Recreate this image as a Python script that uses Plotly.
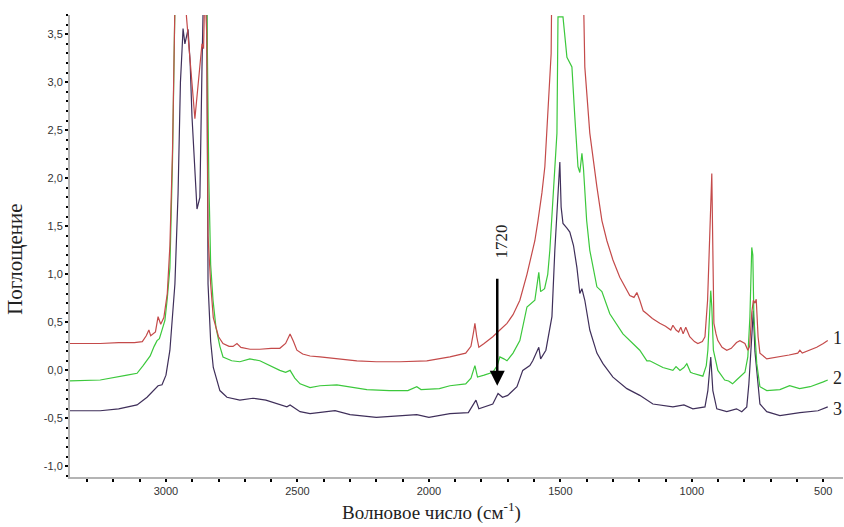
import plotly.graph_objects as go

# ---- data (wavenumber, cm^-1 ; absorbance) ----
wn1 = [3365, 3250, 3180, 3120, 3090, 3075, 3065, 3058, 3040, 3030, 3020, 3008, 2995, 2985, 2975, 2966, 2955, 2930,
       2922, 2916, 2901, 2890, 2878, 2863, 2857, 2852, 2845, 2840, 2830, 2820, 2800, 2783, 2760, 2745, 2730, 2715,
       2680, 2643, 2600, 2567, 2545, 2528, 2515, 2502, 2480, 2452, 2414, 2350, 2274, 2200, 2110, 2008, 1958, 1920,
       1860, 1840, 1830, 1825, 1818, 1810, 1790, 1757, 1730, 1703, 1680, 1654, 1627, 1597, 1585, 1570, 1559, 1545,
       1535, 1532, 1414, 1407, 1388, 1361, 1342, 1323, 1300, 1274, 1250, 1236, 1220, 1209, 1198, 1185, 1171, 1150,
       1122, 1100, 1080, 1072, 1060, 1050, 1042, 1033, 1023, 1008, 990, 977, 960, 950, 940, 931, 924, 920, 916, 908,
       901, 885, 867, 850, 830, 817, 798, 787, 780, 772, 766, 760, 755, 748, 741, 715, 690, 665, 630, 597, 589, 580,
       560, 525, 500, 483]
ab1 = [0.28, 0.28, 0.29, 0.29, 0.30, 0.36, 0.42, 0.36, 0.40, 0.56, 0.48, 0.55, 0.80, 1.30, 2.30, 3.80, 4.20, 4.20,
       3.68, 3.50, 2.99, 2.62, 2.99, 3.40, 3.35, 4.00, 3.50, 1.40, 0.90, 0.55, 0.35, 0.28, 0.25, 0.25, 0.28, 0.24,
       0.22, 0.22, 0.23, 0.23, 0.28, 0.38, 0.30, 0.21, 0.17, 0.15, 0.14, 0.12, 0.10, 0.09, 0.09, 0.10, 0.125, 0.14,
       0.18, 0.25, 0.40, 0.49, 0.35, 0.24, 0.28, 0.35, 0.42, 0.49, 0.58, 0.73, 1.00, 1.35, 1.56, 1.85, 2.12, 2.80,
       3.30, 4.20, 4.20, 3.16, 2.47, 1.91, 1.56, 1.35, 1.15, 0.97, 0.85, 0.78, 0.76, 0.81, 0.73, 0.62, 0.59, 0.54,
       0.49, 0.46, 0.42, 0.47, 0.42, 0.40, 0.45, 0.38, 0.45, 0.35, 0.30, 0.28, 0.30, 0.35, 0.73, 1.60, 2.05, 1.25, 0.49, 0.38,
       0.31, 0.24, 0.21, 0.23, 0.29, 0.31, 0.28, 0.21, 0.25, 0.60, 0.73, 0.70, 0.74, 0.35, 0.18, 0.12, 0.13, 0.14, 0.16, 0.18, 0.21, 0.18,
       0.20, 0.24, 0.28, 0.31]

wn2 = [3365, 3250, 3148, 3110, 3087, 3060, 3045, 3034, 3025, 3004, 2995, 2985, 2975, 2966, 2955, 2850, 2844, 2837,
       2830, 2821, 2810, 2795, 2783, 2750, 2719, 2681, 2643, 2600, 2567, 2545, 2528, 2510, 2490, 2452, 2414, 2350,
       2300, 2236, 2150, 2080, 2046, 2030, 1960, 1920, 1860, 1840, 1825, 1815, 1790, 1757, 1740, 1730, 1715, 1703,
       1680, 1654, 1627, 1610, 1597, 1582, 1575, 1560, 1548, 1540, 1528, 1513, 1509, 1490, 1475, 1456, 1445, 1433,
       1426, 1418, 1412, 1400, 1388, 1361, 1342, 1312, 1262, 1236, 1209, 1198, 1171, 1160, 1110, 1072, 1060, 1045,
       1030, 1019, 1005, 996, 958, 945, 939, 928, 924, 918, 901, 875, 860, 845, 830, 798, 787, 779, 772, 768, 764,
       753, 741, 715, 665, 628, 590, 550, 500, 483]
ab2 = [-0.11, -0.10, -0.05, -0.03, 0.05, 0.15, 0.25, 0.31, 0.33, 0.52, 0.75, 1.07, 2.20, 3.80, 4.20, 4.20, 3.70, 2.00,
       1.10, 0.73, 0.45, 0.25, 0.14, 0.10, 0.09, 0.12, 0.10, 0.04, 0.00, -0.02, 0.00, -0.08, -0.14, -0.18, -0.16, -0.15,
       -0.17, -0.20, -0.21, -0.21, -0.17, -0.20, -0.19, -0.16, -0.14, -0.08, 0.05, -0.07, -0.05, -0.02, 0.05, 0.14, 0.12, 0.10,
       0.18, 0.31, 0.66, 0.70, 0.73, 1.02, 0.82, 0.85, 1.00, 1.25, 1.77, 2.47, 3.68, 3.68, 3.26, 3.16, 2.64, 2.12,
       2.06, 2.26, 2.10, 1.56, 1.25, 0.87, 0.82, 0.59, 0.38, 0.31, 0.24, 0.21, 0.10, 0.10, 0.03, 0.00, 0.04, 0.00,
       0.03, 0.07, -0.02, -0.03, -0.06, 0.05, 0.21, 0.83, 0.66, 0.21, 0.00, -0.10, -0.11, -0.14, -0.10, -0.02, 0.14, 0.56, 1.28, 1.20, 0.56,
       0.07, -0.17, -0.21, -0.20, -0.16, -0.19, -0.17, -0.12, -0.10]

wn3 = [3365, 3250, 3180, 3110, 3072, 3050, 3030, 3015, 3000, 2985, 2966, 2954, 2945, 2939, 2935, 2928, 2916, 2908,
       2901, 2882, 2871, 2863, 2857, 2845, 2840, 2830, 2820, 2795, 2768, 2719, 2669, 2620, 2567, 2540, 2528, 2490,
       2452, 2357, 2300, 2200, 2046, 2000, 1920, 1850, 1821, 1810, 1757, 1737, 1720, 1700, 1665, 1643, 1616, 1605,
       1582, 1575, 1555, 1540, 1532, 1521, 1509, 1502, 1497, 1490, 1475, 1464, 1450, 1437, 1426, 1418, 1407, 1388,
       1361, 1338, 1300, 1247, 1198, 1148, 1072, 1030, 996, 950, 939, 928, 920, 905, 867, 830, 810, 791, 783, 772,
       766, 760, 741, 715, 665, 589, 520, 483]
ab3 = [-0.42, -0.42, -0.40, -0.36, -0.28, -0.22, -0.16, -0.15, -0.05, 0.21, 0.90, 1.84, 3.00, 3.33, 3.56, 3.40, 3.55, 3.20,
       2.64, 1.68, 1.80, 3.16, 4.00, 4.00, 0.90, 0.30, 0.03, -0.21, -0.28, -0.31, -0.29, -0.31, -0.36, -0.38, -0.36, -0.43,
       -0.45, -0.42, -0.46, -0.49, -0.46, -0.49, -0.45, -0.44, -0.31, -0.40, -0.35, -0.24, -0.28, -0.26, -0.17, 0.00, 0.05, 0.10,
       0.24, 0.12, 0.21, 0.45, 0.56, 1.25, 1.77, 2.17, 1.70, 1.53, 1.48, 1.44, 1.30, 1.07, 0.80, 0.85, 0.73, 0.42,
       0.18, 0.07, -0.07, -0.19, -0.26, -0.35, -0.38, -0.36, -0.40, -0.38, -0.21, 0.14, -0.21, -0.40, -0.43, -0.40, -0.43, -0.38, -0.14, 0.40,
       0.62, 0.20, -0.35, -0.43, -0.47, -0.44, -0.42, -0.38]

x_ticks = [3000, 2500, 2000, 1500, 1000, 500]
x_tick_text = ["3000", "2500", "2000", "1500", "1000", "500"]
y_ticks = [-1.0, -0.5, 0.0, 0.5, 1.0, 1.5, 2.0, 2.5, 3.0, 3.5]
y_tick_text = ["-1,0", "-0,5", "0,0", "0,5", "1,0", "1,5", "2,0", "2,5", "3,0", "3,5"]
curve_labels = ["1", "2", "3"]
curve_label_y = [0.34, -0.08, -0.40]
arrow_label = "1720"

X_RANGE = [3365, 425]
Y_RANGE = [-1.11, 3.70]

fig = go.Figure()
fig.add_trace(go.Scatter(x=wn3, y=ab3, mode="lines", line=dict(color="#3f2f5a", width=1.2), showlegend=False))
fig.add_trace(go.Scatter(x=wn2, y=ab2, mode="lines", line=dict(color="#3cc83c", width=1.2), showlegend=False))
fig.add_trace(go.Scatter(x=wn1, y=ab1, mode="lines", line=dict(color="#c44a4a", width=1.2), showlegend=False))

serif = "Liberation Serif, Times New Roman, serif"
sans = "Liberation Sans, Arial, sans-serif"

fig.update_layout(
    width=844, height=527,
    margin=dict(l=70, r=1, t=15, b=50),
    paper_bgcolor="white", plot_bgcolor="white",
    font=dict(family=sans, size=11, color="#333333"),
)
fig.update_xaxes(
    range=X_RANGE, showgrid=False, zeroline=False,
    showline=True, linecolor="#b4b4b4", linewidth=2,
    tickmode="array", tickvals=x_ticks, ticktext=x_tick_text,
    ticks="outside", ticklen=3, tickwidth=2, tickcolor="black",
    minor=dict(dtick=100, tick0=0, ticks="outside", ticklen=3, tickwidth=2, tickcolor="black"),
    tickfont=dict(family=sans, size=11, color="#333333"),
)
fig.update_yaxes(
    range=Y_RANGE, showgrid=False, zeroline=False,
    showline=True, linecolor="#b4b4b4", linewidth=2,
    tickmode="array", tickvals=y_ticks, ticktext=y_tick_text,
    ticks="outside", ticklen=3, tickwidth=2, tickcolor="black",
    minor=dict(dtick=0.1, tick0=0, ticks="outside", ticklen=2, tickwidth=2, tickcolor="black"),
    tickfont=dict(family=sans, size=11, color="#333333"),
)

# axis titles
fig.add_annotation(text="Поглощение", xref="paper", yref="paper", x=0, y=0.47,
                   xanchor="right", yanchor="middle", xshift=-41, textangle=-90, showarrow=False,
                   font=dict(family=serif, size=21, color="#222222"))
fig.add_annotation(text="Волновое число (см<sup>-1</sup>)", xref="paper", yref="paper", x=0.468, y=0,
                   xanchor="center", yanchor="top", yshift=-20, showarrow=False,
                   font=dict(family=serif, size=19, color="#222222"))

# arrow at 1720
fig.add_annotation(x=1740, y=-0.16, ax=1740, ay=0.97, xref="x", yref="y", axref="x", ayref="y",
                   text="", showarrow=True, arrowhead=2, arrowsize=1.2, arrowwidth=2.5, arrowcolor="black")
fig.add_annotation(x=1723, y=1.34, xref="x", yref="y", text=arrow_label, textangle=-90, showarrow=False,
                   font=dict(family=serif, size=17, color="#222222"))

# curve labels
for lab, yv in zip(curve_labels, curve_label_y):
    fig.add_annotation(x=445, y=yv, xref="x", yref="y", text=lab, showarrow=False,
                       font=dict(family=serif, size=18, color="#222222"))

fig.write_html("out.html", config={"displayModeBar": False},
               post_script="document.body.style.margin='0';document.body.style.overflow='hidden';")
